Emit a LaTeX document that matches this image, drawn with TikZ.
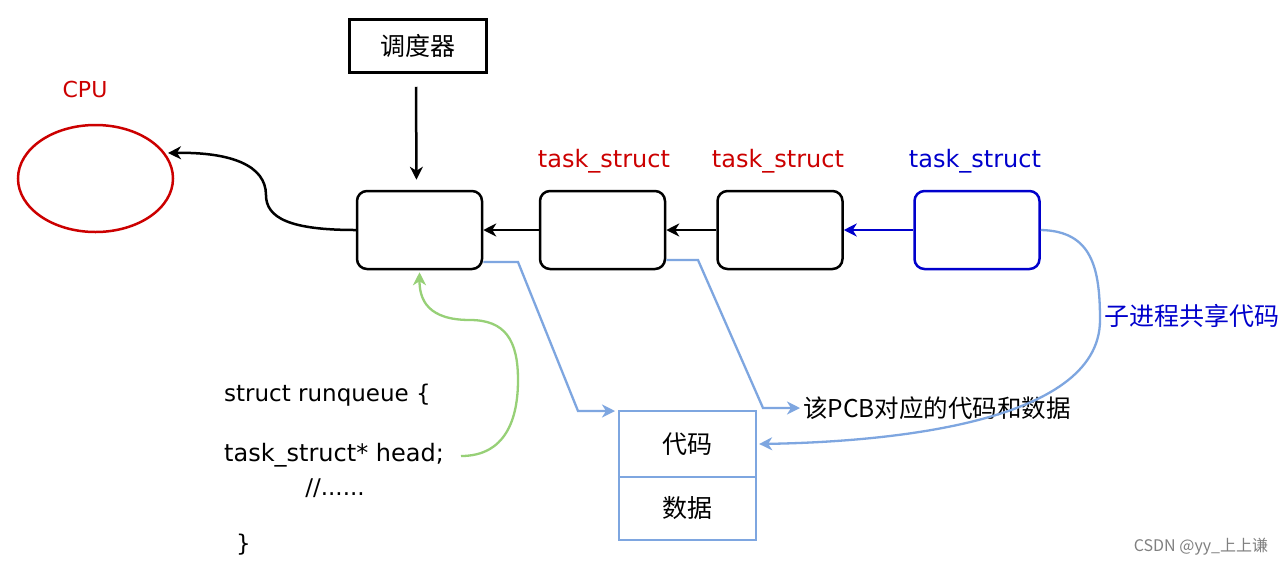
\documentclass[tikz,border=0pt]{standalone}
\usepackage{fontspec}
\setmainfont{DejaVu Sans}
\newfontfamily\cjk{Noto Sans CJK SC}
\usetikzlibrary{arrows.meta,shapes.geometric}
\definecolor{myred}{HTML}{CC0000}
\definecolor{myblue}{HTML}{0000CC}
\definecolor{lblue}{HTML}{7EA6E0}
\definecolor{lgreen}{HTML}{97D077}
\begin{document}
\begin{tikzpicture}[x=1pt,y=-1pt,
 tbox/.style={draw, line width=2.5pt, rounded corners=10pt, minimum width=125pt, minimum height=78pt, inner sep=0pt},
 tip/.style={-{Stealth[length=13pt,width=13pt,inset=4pt]}},
 arr/.style={tip, line width=2.5pt},
 larr/.style={tip, line width=2.3pt, draw=lblue},
 lbl/.style={font=\fontsize{24}{28}\selectfont, inner sep=0pt},
 cn/.style={font=\cjk\fontsize{25}{29}\selectfont, inner sep=0pt},
 codetxt/.style={font=\fontsize{23}{27}\selectfont, anchor=west, inner sep=0pt}]
\useasboundingbox[fill=white] (0,0) rectangle (1288,566);

% scheduler
\node[draw, line width=2.5pt, minimum width=137pt, minimum height=53pt, cn] (sched) at (418,46) {调度器};

% CPU
\node[lbl, text=myred, font=\fontsize{22}{26}\selectfont] (cputxt) at (85,89) {CPU};
\node[draw=myred, line width=2.5pt, ellipse, minimum width=155pt, minimum height=107pt] (cpu) at (95.5,178.5) {};

% task boxes
\node[tbox] (b1) at (419.5,230) {};
\node[tbox] (b2) at (602.5,230) {};
\node[tbox] (b3) at (780,230) {};
\node[tbox, draw=myblue] (b4) at (977,230) {};

\node[lbl, text=myred] (l2) at (604,161) {task\_struct};
\node[lbl, text=myred] (l3) at (778,161) {task\_struct};
\node[lbl, text=myblue] (l4) at (975,161) {task\_struct};

% chain arrows
\draw[arr] (b2.west) -- (b1.east);
\draw[arr] (b3.west) -- (b2.east);
\draw[arr, draw=myblue] (b4.west) -- (b3.east);

% scheduler arrow
\draw[arr] ([xshift=-2pt,yshift=-13pt]sched.south) -- ([xshift=-3pt,yshift=10pt]b1.north);

% to CPU
\coordinate (cpuin) at (168,153);
\draw[arr] (b1.west) .. controls (290,230) and (266,218) .. (266,195)
  .. controls (266,165) and (230,152) .. (cpuin);

% code/data box
\node[draw=lblue, line width=2.3pt, minimum width=137pt, minimum height=66pt, cn] (code) at (687.5,444) {代码};
\node[draw=lblue, line width=2.3pt, minimum width=137pt, minimum height=63pt, cn] (data) at (687.5,508.5) {数据};

% PCB text
\node[cn, font=\cjk\fontsize{24.5}{28}\selectfont, anchor=west] (pcb) at (803,408) {该PCB对应的代码和数据};
\node[cn, text=myblue] (share) at (1192,316) {子进程共享代码};

% light blue connectors
\coordinate (c1a) at (518,262);
\coordinate (c1b) at (578,411);
\coordinate (c1c) at (615,411);
\draw[larr] ([yshift=-32pt]b1.east) -- (c1a) -- (c1b) -- (c1c);
\coordinate (c2a) at (698,260);
\coordinate (c2b) at (763,408);
\coordinate (c2c) at (800,408);
\draw[larr] ([yshift=-30pt]b2.east) -- (c2a) -- (c2b) -- (c2c);
\draw[larr] (b4.east) .. controls (1092,231) and (1100,268) .. (1100,320)
  .. controls (1100,425) and (880,442) .. ([xshift=2pt]code.east);

% runqueue code
\node[codetxt] (s1) at (224,395) {struct runqueue \{};
\node[codetxt, font=\fontsize{24}{28}\selectfont] (s2) at (224,455) {task\_struct* head;};
\node[codetxt, anchor=center] (s3) at (335,488) {//......};
\node[codetxt] (s4) at (236,545) {\}};

% green pointer
\coordinate (gstart) at (461,456);
\draw[line width=2.3pt, draw=lgreen, tip] (gstart)
  .. controls (505,456) and (518,420) .. (518,380)
  .. controls (518,340) and (505,320) .. (470,320)
  .. controls (428,320) and (419.5,300) .. ([yshift=-2pt]b1.south);

% watermark
\node[font=\cjk\fontsize{16}{18}\selectfont, text=gray, inner sep=0pt] (wm) at (1201,547) {CSDN @yy\_上上谦};
\end{tikzpicture}
\end{document}
